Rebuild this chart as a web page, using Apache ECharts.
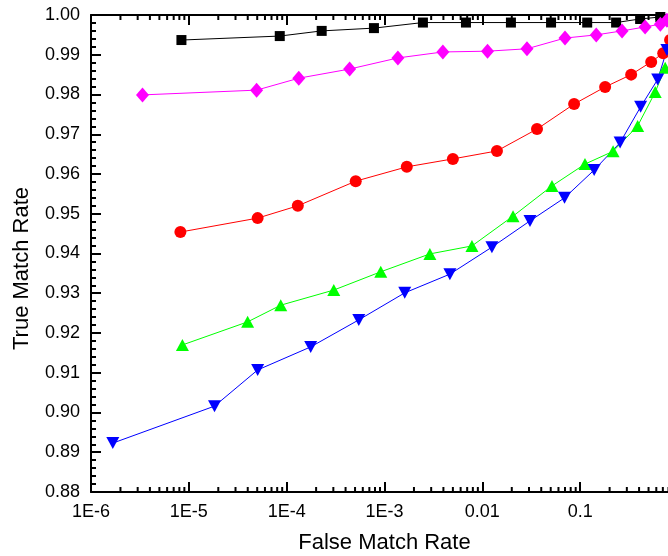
<!DOCTYPE html>
<html>
<head>
<meta charset="utf-8">
<script src="https://cdn.jsdelivr.net/npm/echarts@6/dist/echarts.min.js"></script>
<style>html,body{margin:0;padding:0;background:#fff;}#chart{width:668px;height:556px;}</style>
</head>
<body>
<div id="chart"></div>
<script>
// ---- data (False Match Rate, True Match Rate) ----
const seriesBlack = [[8.4e-6,0.9937],[8.5e-5,0.9947],[2.28e-4,0.9960],[7.8e-4,0.9967],[2.47e-3,0.9981],[6.8e-3,0.9981],[0.0196,0.9981],[0.0504,0.9981],[0.118,0.9981],[0.233,0.9981],[0.41,0.9990],[0.66,0.9995]];
const seriesMagenta = [[3.36e-6,0.9799],[4.93e-5,0.9811],[1.33e-4,0.9841],[4.4e-4,0.9864],[1.37e-3,0.9892],[3.95e-3,0.9907],[0.0113,0.9909],[0.0286,0.9915],[0.070,0.9942],[0.146,0.9950],[0.268,0.9960],[0.461,0.9970],[0.66,0.9977],[0.77,0.9987]];
const seriesRed = [[8.2e-6,0.9454],[5.05e-5,0.9489],[1.30e-4,0.9520],[5.08e-4,0.9582],[1.69e-3,0.9618],[5.0e-3,0.9638],[0.0141,0.9658],[0.0362,0.9713],[0.0867,0.9776],[0.180,0.9819],[0.332,0.9850],[0.532,0.9882],[0.706,0.9904],[0.83,0.9937]];
const seriesGreen = [[8.6e-6,0.9170],[3.99e-5,0.9228],[8.7e-5,0.9270],[3.03e-4,0.9308],[9.16e-4,0.9354],[2.91e-3,0.9399],[7.83e-3,0.9419],[0.0206,0.9494],[0.0515,0.9570],[0.112,0.9625],[0.217,0.9657],[0.387,0.9721],[0.585,0.9806],[0.74,0.9867]];
const seriesBlue = [[1.67e-6,0.8923],[1.83e-5,0.9016],[5.05e-5,0.9107],[1.76e-4,0.9165],[5.46e-4,0.9233],[1.61e-3,0.9301],[4.66e-3,0.9348],[0.01253,0.9416],[0.0307,0.9482],[0.0692,0.9540],[0.139,0.9610],[0.256,0.9679],[0.415,0.9769],[0.62,0.9838],[0.77,0.9912]];

// ---- axis ticks ----
const xDecades = [1e-6,1e-5,1e-4,1e-3,1e-2,1e-1];
const xTickLabels = ['1E-6','1E-5','1E-4','1E-3','0.01','0.1','1'];
const xMinorMultipliers = [2,3,4,5,6,7,8,9];
const yMin = 0.88, yMax = 1.00, yInterval = 0.01;

const xMinorTicks = [];
xDecades.forEach(d => xMinorMultipliers.forEach(m => xMinorTicks.push([d*m, yMin])));

const FONT = 'Liberation Sans, Arial, sans-serif';
const chart = echarts.init(document.getElementById('chart'));

function xLabel(v){
  const e = Math.round(Math.log10(v));
  return xTickLabels[e+6] || '';
}

const commonAxisLine = {show:true, onZero:false, lineStyle:{color:'#000', width:2}};

const option = {
  animation:false,
  backgroundColor:'#fff',
  grid:{left:91, top:15, width:587, height:477, containLabel:false, outerBoundsMode:'none'},
  xAxis:[{
    type:'log', logBase:10, min:1e-6, max:1, position:'bottom',
    axisLine:commonAxisLine,
    axisTick:{show:true, inside:true, length:10, lineStyle:{color:'#000', width:2}},
    axisLabel:{color:'#000', fontSize:18, fontFamily:FONT, margin:11, formatter:xLabel},
    splitLine:{show:false},
    name:'False Match Rate', nameLocation:'middle', nameGap:40,
    nameTextStyle:{color:'#000', fontSize:22, fontFamily:FONT}
  },{
    type:'log', logBase:10, min:1e-6, max:1, position:'top',
    axisLine:commonAxisLine,
    axisTick:{show:true, inside:true, length:10, lineStyle:{color:'#000', width:2}},
    axisLabel:{show:false}, splitLine:{show:false}
  }],
  yAxis:[{
    type:'value', min:yMin, max:yMax, interval:yInterval, position:'left',
    axisLine:commonAxisLine,
    axisTick:{show:true, inside:true, length:10, lineStyle:{color:'#000', width:2}},
    minorTick:{show:true, splitNumber:5, length:5, lineStyle:{color:'#000', width:2}},
    axisLabel:{color:'#000', fontSize:18, fontFamily:FONT, margin:11, formatter:v=>v.toFixed(2)},
    splitLine:{show:false},
    name:'True Match Rate', nameLocation:'middle', nameGap:58, nameRotate:90,
    nameTextStyle:{color:'#000', fontSize:22, fontFamily:FONT, padding:[0,30,0,0]}
  },{
    type:'value', min:yMin, max:yMax, interval:yInterval, position:'right',
    axisLine:commonAxisLine,
    axisTick:{show:true, inside:true, length:10, lineStyle:{color:'#000', width:2}},
    minorTick:{show:true, splitNumber:5, length:5, lineStyle:{color:'#000', width:2}},
    axisLabel:{show:false}, splitLine:{show:false}
  }],
  series:[
    {
      type:'custom', name:'minorTicks', silent:true, z:1,
      data:xMinorTicks,
      renderItem:function(params, api){
        const p = api.coord([api.value(0), yMin]);
        const top = api.coord([api.value(0), yMax]);
        return {type:'group', children:[
          {type:'line', shape:{x1:p[0], y1:p[1], x2:p[0], y2:p[1]-5}, style:{stroke:'#000', lineWidth:2}},
          {type:'line', shape:{x1:p[0], y1:top[1], x2:p[0], y2:top[1]+5}, style:{stroke:'#000', lineWidth:2}}
        ]};
      }
    },
    {type:'line', data:seriesBlack, symbol:'rect', symbolSize:10, itemStyle:{color:'#000'}, lineStyle:{color:'#000', width:1}},
    {type:'line', data:seriesMagenta, symbol:'diamond', symbolSize:[13,15], itemStyle:{color:'#ff00ff'}, lineStyle:{color:'#ff00ff', width:1}},
    {type:'line', data:seriesRed, symbol:'circle', symbolSize:12, itemStyle:{color:'#ff0000'}, lineStyle:{color:'#ff0000', width:1}},
    {type:'line', data:seriesGreen, symbol:'triangle', symbolSize:[13,12], itemStyle:{color:'#00ff00'}, lineStyle:{color:'#00ff00', width:1}},
    {type:'line', data:seriesBlue, symbol:'path://M-1,-1L1,-1L0,1Z', symbolSize:[13,12], itemStyle:{color:'#0000ff'}, lineStyle:{color:'#0000ff', width:1}}
  ]
};
chart.setOption(option);
</script>
</body>
</html>
